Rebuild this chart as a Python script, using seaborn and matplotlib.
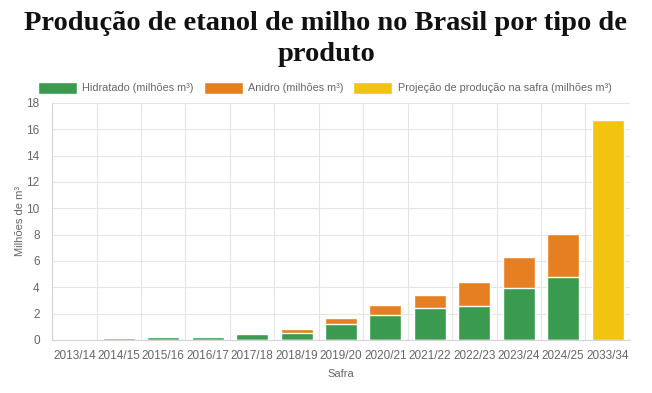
import numpy as np
import pandas as pd
import matplotlib.pyplot as plt
import seaborn as sns
from matplotlib.patches import Patch

safras = ['2013/14', '2014/15', '2015/16', '2016/17', '2017/18', '2018/19', '2019/20',
          '2020/21', '2021/22', '2022/23', '2023/24', '2024/25', '2033/34']
hidratado = [0.02, 0.12, 0.20, 0.25, 0.45, 0.55, 1.21, 1.90, 2.41, 2.61, 3.91, 4.80, 0]
anidro = [0.0, 0.0, 0.0, 0.05, 0.10, 0.26, 0.42, 0.74, 1.02, 1.78, 2.41, 3.22, 0]
projecao = [0, 0, 0, 0, 0, 0, 0, 0, 0, 0, 0, 0, 16.67]

verde = '#3a9b50'
laranja = '#e67f22'
amarelo = '#f1c40f'
cinza = '#666666'

df = pd.DataFrame({'Safra': safras, 'Hidratado': hidratado, 'Anidro': anidro, 'Projecao': projecao})
df['Total'] = df['Hidratado'] + df['Anidro']

sns.set_style('white')
plt.rcParams['font.family'] = ['Liberation Sans', 'DejaVu Sans']

fig = plt.figure(figsize=(6.52, 3.93), dpi=100)
ax = fig.add_axes([0.080, 0.135, 0.886, 0.603])

# stacked bars: total first (orange), hidratado on top of it (green)
sns.barplot(data=df, x='Safra', y='Total', color=laranja, width=0.72, saturation=1, ax=ax, zorder=2)
sns.barplot(data=df, x='Safra', y='Hidratado', color=verde, width=0.72, saturation=1, ax=ax, zorder=3)
sns.barplot(data=df, x='Safra', y='Projecao', color=amarelo, width=0.72, saturation=1, ax=ax, zorder=3)

ax.set_xlim(-0.5, 12.5)
ax.set_ylim(0, 18)
ax.set_yticks(np.arange(0, 19, 2))
ax.set_xticks(np.arange(-0.5, 13, 1), minor=True)
ax.grid(True, axis='y', color='#e5e5e5', lw=0.8, zorder=0)
ax.grid(True, axis='x', which='minor', color='#e5e5e5', lw=0.8, zorder=0)
ax.tick_params(axis='x', which='major', length=0, colors=cinza, labelsize=8.5, pad=7)
ax.tick_params(axis='x', which='minor', length=7, color='#e5e5e5', width=0.8)
ax.tick_params(axis='y', length=7, color='#e5e5e5', width=0.8, colors=cinza, labelsize=8.5, pad=2)
for s in ['top', 'right']:
    ax.spines[s].set_visible(False)
ax.spines['left'].set_color('#d5d5d5')
ax.spines['bottom'].set_color('#d5d5d5')
ax.set_xlabel('Safra', color=cinza, fontsize=8, labelpad=5)
ax.set_ylabel('Milhões de m³', color=cinza, fontsize=8, labelpad=1)

handles = [Patch(facecolor=verde, label='Hidratado (milhões m³)'),
           Patch(facecolor=laranja, label='Anidro (milhões m³)'),
           Patch(facecolor=amarelo, label='Projeção de produção na safra (milhões m³)')]
fig.legend(handles=handles, loc='center', bbox_to_anchor=(0.498, 0.777), ncol=3, frameon=False,
           fontsize=7.8, handlelength=3.6, handleheight=1.3, columnspacing=0.9, handletextpad=0.5,
           labelcolor=cinza)

fig.text(0.5, 0.940, 'Produção de etanol de milho no Brasil por tipo de', ha='center', va='center',
         fontsize=20.5, fontweight='bold', family='Liberation Serif', color='#111111')
fig.text(0.5, 0.862, 'produto', ha='center', va='center',
         fontsize=20.5, fontweight='bold', family='Liberation Serif', color='#111111')

fig.savefig('out.png', dpi=100)
